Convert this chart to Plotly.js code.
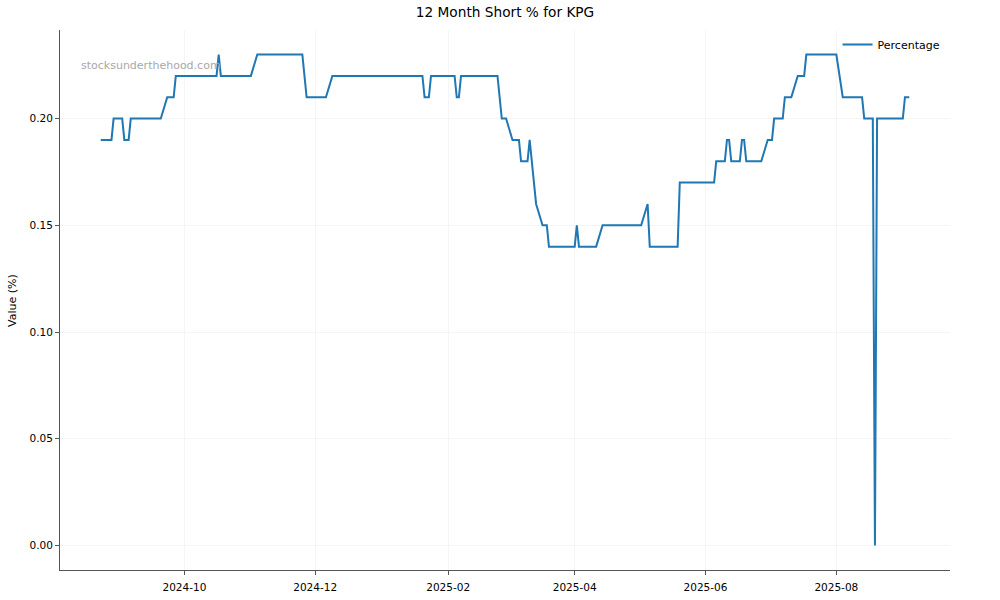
<!DOCTYPE html>
<html>
<head>
<meta charset="utf-8">
<script src="https://cdn.plot.ly/plotly-3.0.1.min.js"></script>
<style>html,body{margin:0;padding:0;background:#fff;}#chart{width:1000px;height:600px;}</style>
</head>
<body>
<div id="chart"></div>
<script>
const dates = [
  "2024-08-23","2024-08-28","2024-08-29","2024-09-02","2024-09-03","2024-09-05","2024-09-06",
  "2024-09-20","2024-09-23","2024-09-26","2024-09-27","2024-10-16","2024-10-17","2024-10-18",
  "2024-11-01","2024-11-04","2024-11-25","2024-11-27","2024-12-06","2024-12-09",
  "2025-01-20","2025-01-21","2025-01-23","2025-01-24","2025-02-04","2025-02-05","2025-02-06",
  "2025-02-07","2025-02-24","2025-02-26","2025-02-28","2025-03-03","2025-03-06","2025-03-07",
  "2025-03-10","2025-03-11","2025-03-14","2025-03-17","2025-03-19","2025-03-20","2025-04-01",
  "2025-04-02","2025-04-03","2025-04-11","2025-04-14","2025-05-02","2025-05-05","2025-05-06",
  "2025-05-19","2025-05-20","2025-06-05","2025-06-06","2025-06-10","2025-06-11","2025-06-12",
  "2025-06-13","2025-06-17","2025-06-18","2025-06-19","2025-06-20","2025-06-27","2025-06-30",
  "2025-07-02","2025-07-03","2025-07-07","2025-07-08","2025-07-11","2025-07-14","2025-07-17",
  "2025-07-18","2025-08-01","2025-08-04","2025-08-13","2025-08-14","2025-08-18","2025-08-19",
  "2025-08-20","2025-09-01","2025-09-02","2025-09-04"
];
const percentage = [
  0.19,0.19,0.20,0.20,0.19,0.19,0.20,
  0.20,0.21,0.21,0.22,0.22,0.23,0.22,
  0.22,0.23,0.23,0.21,0.21,0.22,
  0.22,0.21,0.21,0.22,0.22,0.21,0.21,
  0.22,0.22,0.20,0.20,0.19,0.19,0.18,
  0.18,0.19,0.16,0.15,0.15,0.14,0.14,
  0.15,0.14,0.14,0.15,0.15,0.16,0.14,
  0.14,0.17,0.17,0.18,0.18,0.19,0.19,
  0.18,0.18,0.19,0.19,0.18,0.18,0.19,
  0.19,0.20,0.20,0.21,0.21,0.22,0.22,
  0.23,0.23,0.21,0.21,0.20,0.20,0.00,
  0.20,0.20,0.21,0.21
];
const seriesName = "Percentage";
const chartTitle = "12 Month Short % for KPG";
const yTitle = "Value (%)";
const watermark = "stocksunderthehood.com";

const font = "DejaVu Sans, sans-serif";
const trace = {
  x: dates, y: percentage, type: "scatter", mode: "lines", name: seriesName,
  line: {color: "#1f77b4", width: 2}
};
const layout = {
  width: 1000, height: 600,
  margin: {l: 60, r: 50, t: 30, b: 30, pad: 0},
  paper_bgcolor: "#fff", plot_bgcolor: "#fff",
  font: {family: font, size: 11, color: "#000"},
  title: {text: chartTitle, font: {family: font, size: 13.7, color: "#000"},
          x: 0.505, xanchor: "center", y: 0.98, yanchor: "middle", yref: "container"},
  showlegend: true,
  legend: {x: 0.995, xanchor: "right", y: 1.0, yanchor: "top", bgcolor: "rgba(0,0,0,0)",
           font: {family: font, size: 11, color: "#000"}},
  xaxis: {
    type: "date", range: ["2024-08-04", "2025-09-23"],
    tick0: "2024-10-01", dtick: "M2", tickformat: "%Y-%m",
    showgrid: true, gridcolor: "#f5f5f5", gridwidth: 1,
    showline: true, linecolor: "#555", linewidth: 1, mirror: false,
    ticks: "outside", ticklen: 4, tickcolor: "#555", tickwidth: 1, ticklabelstandoff: 3,
    tickfont: {family: font, size: 10.5, color: "#000"}, zeroline: false
  },
  yaxis: {
    range: [-0.0115, 0.2415], dtick: 0.05, tick0: 0, tickformat: ".2f",
    showgrid: true, gridcolor: "#f5f5f5", gridwidth: 1,
    showline: true, linecolor: "#555", linewidth: 1, mirror: false,
    ticks: "outside", ticklen: 4, tickcolor: "#555", tickwidth: 1,
    tickfont: {family: font, size: 10.5, color: "#000"}, zeroline: false
  },
  annotations: [
    {text: yTitle, xref: "paper", yref: "paper", x: -0.054, y: 0.5, xanchor: "center", yanchor: "middle",
     textangle: -90, showarrow: false, font: {family: font, size: 11, color: "#000"}},
    {text: watermark, xref: "paper", yref: "paper", x: 0.0214, y: 0.935, xanchor: "left", yanchor: "middle",
     showarrow: false, font: {family: font, size: 11, color: "#a8a8a8"}}
  ]
};
Plotly.newPlot("chart", [trace], layout, {displayModeBar: false, staticPlot: true});
</script>
</body>
</html>
